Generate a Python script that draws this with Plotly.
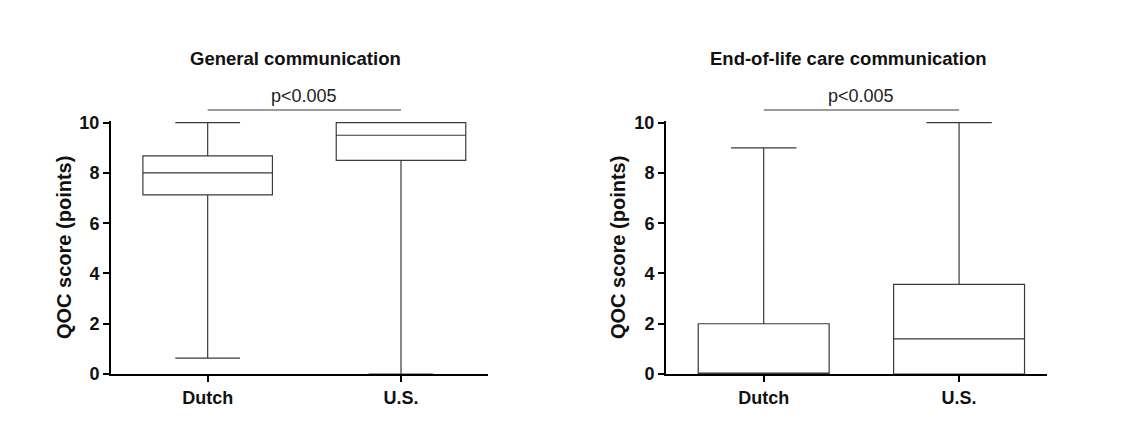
import plotly.graph_objects as go

# The page body has an 8px default margin; lay out in window pixels minus that offset.
OFF = 8
W, H = 1125 - OFF, 439 - OFF

categories = ["Dutch", "U.S."]
panel_titles = ["General communication", "End-of-life care communication"]
p_labels = ["p<0.005", "p<0.005"]
y_title = "QOC score (points)"
y_ticks = [0, 2, 4, 6, 8, 10]

# General communication
gen_lower = [0.63, 0.0]
gen_q1 = [7.13, 8.5]
gen_median = [8.0, 9.5]
gen_q3 = [8.68, 10.0]
gen_upper = [10.0, 10.0]

# End-of-life care communication
eol_lower = [0.0, 0.0]
eol_q1 = [0.0, 0.0]
eol_median = [0.0, 1.4]
eol_q3 = [2.0, 3.57]
eol_upper = [9.0, 10.0]


def px_x(p):
    return (p - OFF) / W


def px_y(p):
    return (H - (p - OFF)) / H


FONT = "Liberation Sans, Arial, sans-serif"
box_line = dict(color="#3a3a3a", width=1.2)

fig = go.Figure()
fig.add_trace(go.Box(
    x=categories, q1=gen_q1, median=gen_median, q3=gen_q3,
    lowerfence=gen_lower, upperfence=gen_upper,
    xaxis="x", yaxis="y", fillcolor="white", line=box_line,
    width=0.67, whiskerwidth=0.5, boxpoints=False, showlegend=False,
    hoverinfo="skip"))
fig.add_trace(go.Box(
    x=categories, q1=eol_q1, median=eol_median, q3=eol_q3,
    lowerfence=eol_lower, upperfence=eol_upper,
    xaxis="x2", yaxis="y2", fillcolor="white", line=box_line,
    width=0.67, whiskerwidth=0.5, boxpoints=False, showlegend=False,
    hoverinfo="skip"))

ydom = [px_y(374), px_y(121.2)]
tickfont = dict(family=FONT, size=18, color="#111", weight="bold")
xcommon = dict(
    type="category", range=[-0.5, 1.45], showgrid=False, zeroline=False,
    showline=True, linecolor="black", linewidth=2,
    ticks="outside", ticklen=6, tickwidth=2, tickcolor="black",
    tickfont=tickfont, automargin=False, fixedrange=True)
ycommon = dict(
    range=[0, 10.06], domain=ydom, tickvals=y_ticks,
    showgrid=False, zeroline=False,
    showline=True, linecolor="black", linewidth=2,
    ticks="outside", ticklen=6, tickwidth=2, tickcolor="black",
    tickfont=tickfont, automargin=False, fixedrange=True)

fig.update_layout(
    width=W, height=H,
    margin=dict(l=0, r=0, t=0, b=0, autoexpand=False),
    paper_bgcolor="white", plot_bgcolor="white",
    xaxis=dict(xcommon, domain=[px_x(111), px_x(488)], anchor="y"),
    yaxis=dict(ycommon, anchor="x"),
    xaxis2=dict(xcommon, domain=[px_x(666), px_x(1047)], anchor="y2"),
    yaxis2=dict(ycommon, anchor="x2"),
    showlegend=False,
)

annotations = []
shapes = []
title_x = [px_x(295), px_x(848)]
ytitle_x = [px_x(64), px_x(618)]
for i, (xr, t) in enumerate([("x", panel_titles[0]), ("x2", panel_titles[1])]):
    annotations.append(dict(
        text="<b>%s</b>" % t, x=title_x[i], y=px_y(58), xref="paper", yref="paper",
        showarrow=False, xanchor="center", yanchor="middle",
        font=dict(family=FONT, size=18.5, color="#111")))
    annotations.append(dict(
        text=p_labels[i], x=0.5, y=px_y(96), xref=xr, yref="paper",
        showarrow=False, xanchor="center", yanchor="middle",
        font=dict(family=FONT, size=18, color="#222")))
    annotations.append(dict(
        text="<b>%s</b>" % y_title, x=ytitle_x[i], y=px_y(248), xref="paper", yref="paper",
        showarrow=False, xanchor="center", yanchor="middle", textangle=-90,
        font=dict(family=FONT, size=20, color="#111")))
    shapes.append(dict(
        type="line", xref=xr, yref="paper", x0=0, x1=1,
        y0=px_y(110), y1=px_y(110), line=dict(color="#3a3a3a", width=1.2)))

fig.update_layout(annotations=annotations, shapes=shapes)

fig.write_html("out.html")
